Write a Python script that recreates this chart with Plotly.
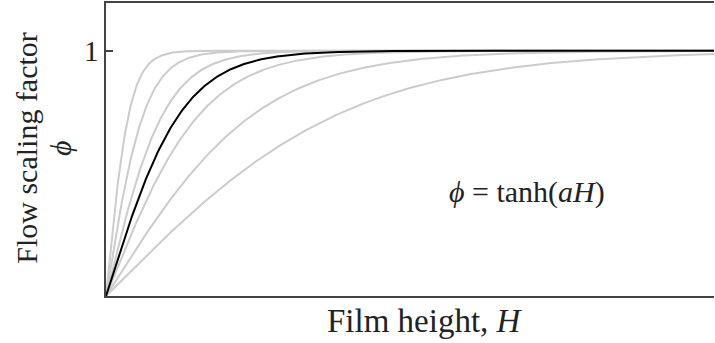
import numpy as np
import plotly.graph_objects as go

gray_a = [25.5, 15.5, 10.2, 6.2, 3.93, 2.5]
black_a = 7.9
H = np.linspace(0, 1, 600)

y_ticks = [1]
y_ticklabels = ["1"]

fig = go.Figure()
for a in gray_a:
    fig.add_trace(go.Scatter(x=H, y=np.tanh(a * H), mode="lines",
                             line=dict(color="#cccccc", width=2), hoverinfo="skip"))
fig.add_trace(go.Scatter(x=H, y=np.tanh(black_a * H), mode="lines",
                         line=dict(color="black", width=2), hoverinfo="skip"))

font_family = "Liberation Serif, DejaVu Serif, serif"
txt = "#222"
fig.update_layout(
    width=715, height=343,
    margin=dict(l=106, r=1, t=1, b=47),
    paper_bgcolor="white", plot_bgcolor="white",
    showlegend=False,
    font=dict(family=font_family, size=29, color=txt),
    xaxis=dict(range=[0, 1], showgrid=False, zeroline=False, showticklabels=False,
               ticks="", showline=True, linecolor="#444", linewidth=1.5, mirror=True),
    yaxis=dict(range=[0, 1.195], showgrid=False, zeroline=False,
               tickvals=y_ticks, ticktext=y_ticklabels, ticks="inside", ticklen=7,
               tickcolor="#444", tickwidth=1.5,
               tickfont=dict(family=font_family, size=29, color=txt),
               showline=True, linecolor="#444", linewidth=1.5),
    annotations=[
        dict(text="Film height, <i>H</i>", xref="paper", yref="paper", x=0.525, y=-0.085,
             xanchor="center", yanchor="middle", showarrow=False,
             font=dict(family=font_family, size=33, color=txt)),
        dict(text="Flow scaling factor", xref="paper", yref="paper", x=-0.132, y=0.505,
             xanchor="center", yanchor="middle", textangle=-90, showarrow=False,
             font=dict(family=font_family, size=30, color=txt)),
        dict(text="<i>ϕ</i>", xref="paper", yref="paper", x=-0.0757, y=0.505,
             xanchor="center", yanchor="middle", textangle=-90, showarrow=False,
             font=dict(family=font_family, size=30, color=txt)),
        dict(text="<i>ϕ</i> = tanh(<i>aH</i>)", x=0.692, y=0.423, xref="x", yref="y",
             xanchor="center", yanchor="middle", showarrow=False,
             font=dict(family=font_family, size=30, color=txt)),
    ],
)

fig.write_html("out.html")
